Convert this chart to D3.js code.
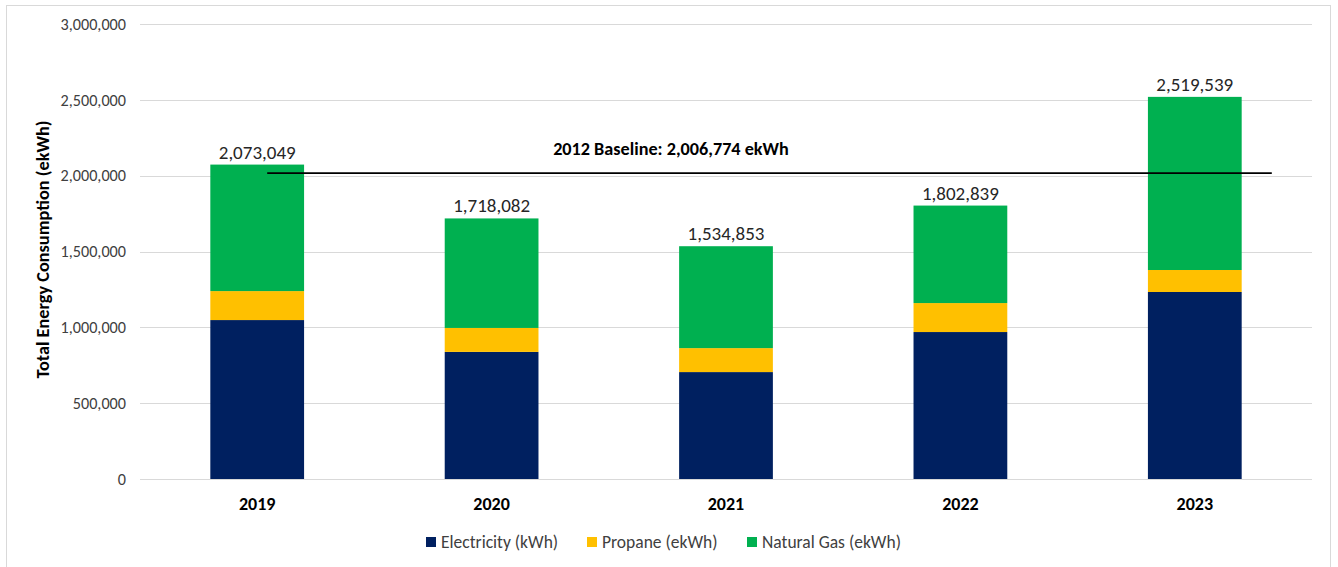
<!DOCTYPE html>
<html><head><meta charset="utf-8">
<script src="https://cdn.jsdelivr.net/npm/d3@7"></script>
<style>
html,body{margin:0;padding:0;background:#fff;}
svg{display:block;font-family:Calibri,Carlito,Lato,"Open Sans",sans-serif;}
</style></head>
<body>
<svg id="chart" width="1338" height="567"></svg>
<script>
const years = ["2019","2020","2021","2022","2023"];
const electricity = [1048000, 838000, 705000, 969000, 1233000];
const propane = [191000, 158000, 158000, 191000, 145000];
const naturalGas = [834049, 722082, 671853, 642839, 1141539];
const totals = [2073049, 1718082, 1534853, 1802839, 2519539];
const seriesNames = ["Electricity (kWh)", "Propane (ekWh)", "Natural Gas (ekWh)"];
const seriesColors = ["#002060", "#FFC000", "#00B050"];
const yTicks = [0, 500000, 1000000, 1500000, 2000000, 2500000, 3000000];
const baselineValue = 2006774;
const baselineLabel = "2012 Baseline: 2,006,774 ekWh";
const yTitle = "Total Energy Consumption (ekWh)";

const svg = d3.select("#chart");
const m = {left: 140, right: 1312, top: 24, bottom: 479};

svg.append("rect").attr("x", 6.5).attr("y", 5.5).attr("width", 1324).attr("height", 570)
  .attr("fill", "none").attr("stroke", "#d9d9d9").attr("stroke-width", 1);

const x = d3.scaleBand().domain(years).range([m.left, m.right]).paddingInner(0.6).paddingOuter(0.3);
const y = d3.scaleLinear().domain([0, 3000000]).range([m.bottom, m.top]);

svg.append("g").selectAll("line").data(yTicks).join("line")
  .attr("x1", m.left).attr("x2", m.right)
  .attr("y1", d => Math.round(y(d)) + 0.5).attr("y2", d => Math.round(y(d)) + 0.5)
  .attr("stroke", "#d9d9d9").attr("stroke-width", 1);

const yAxis = d3.axisLeft(y).tickValues(yTicks).tickFormat(d3.format(",")).tickSize(0).tickPadding(14);
const ya = svg.append("g").attr("transform", `translate(${m.left},0)`).call(yAxis);
ya.select(".domain").remove();
ya.selectAll("text").attr("font-size", 16.2).attr("fill", "#404040")
  .style("font-family", "Calibri,Carlito,Lato,sans-serif");

const rows = years.map((yr, i) => ({year: yr, e: electricity[i], p: propane[i], g: naturalGas[i]}));
const stack = d3.stack().keys(["e", "p", "g"])(rows);
svg.append("g").selectAll("g").data(stack).join("g")
  .attr("fill", (d, i) => seriesColors[i])
  .selectAll("rect").data(d => d).join("rect")
  .attr("x", d => x(d.data.year))
  .attr("width", x.bandwidth())
  .attr("y", d => y(d[1]))
  .attr("height", d => y(d[0]) - y(d[1]));

const xAxis = d3.axisBottom(x).tickSize(0).tickPadding(18);
const xa = svg.append("g").attr("transform", `translate(0,${m.bottom})`).call(xAxis);
xa.select(".domain").remove();
xa.selectAll("text").attr("font-size", 18).attr("font-weight", "bold").attr("fill", "#000")
  .style("font-family", "Calibri,Carlito,Lato,sans-serif");

svg.append("g").selectAll("text").data(years).join("text")
  .attr("x", d => x(d) + x.bandwidth() / 2)
  .attr("y", (d, i) => y(totals[i]) - 6)
  .attr("text-anchor", "middle").attr("font-size", 19).attr("fill", "#262626")
  .text((d, i) => d3.format(",")(totals[i]));

const bx1 = x(years[0]) + x.bandwidth() / 2 + 10;
const bx2 = x(years[years.length - 1]) + x.bandwidth() / 2 + 77;
svg.append("line").attr("x1", bx1).attr("x2", bx2)
  .attr("y1", y(baselineValue) - 1.5).attr("y2", y(baselineValue) - 1.5)
  .attr("stroke", "#000").attr("stroke-width", 1.6);
svg.append("text").attr("x", 671).attr("y", 155)
  .attr("text-anchor", "middle").attr("font-size", 18.2).attr("font-weight", "bold").attr("fill", "#000")
  .text(baselineLabel);

svg.append("text").attr("transform", `translate(49,${(m.top + m.bottom) / 2 - 2}) rotate(-90)`)
  .attr("text-anchor", "middle").attr("font-size", 18.3).attr("font-weight", "bold").attr("fill", "#000")
  .text(yTitle);

const legX = [426, 587, 747];
const leg = svg.append("g").selectAll("g").data(seriesNames).join("g")
  .attr("transform", (d, i) => `translate(${legX[i]},542)`);
leg.append("rect").attr("x", 0).attr("y", -5).attr("width", 10).attr("height", 10)
  .attr("fill", (d, i) => seriesColors[i]);
leg.append("text").attr("x", 15).attr("y", 0).attr("dy", "0.35em")
  .attr("font-size", 17.5).attr("fill", "#404040").text(d => d);
</script>
</body></html>
